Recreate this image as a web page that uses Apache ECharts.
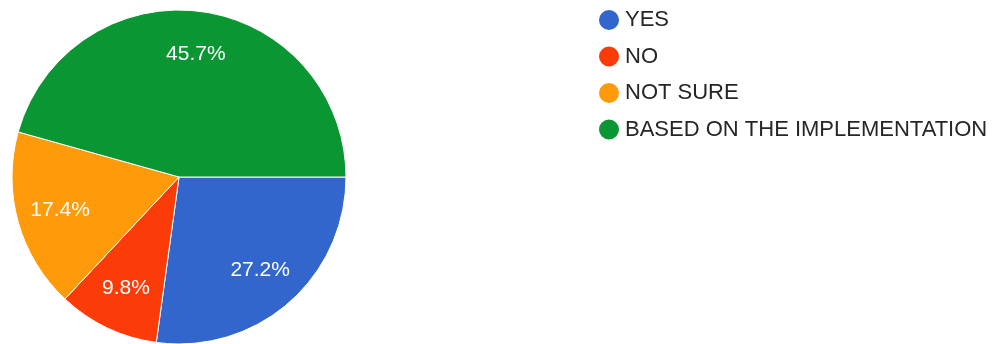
<!DOCTYPE html>
<html>
<head>
<meta charset="utf-8">
<style>
html,body{margin:0;padding:0;background:#fff;}
#chart{width:994px;height:344px;}
</style>
<script src="https://cdn.jsdelivr.net/npm/echarts@6/dist/echarts.min.js"></script>
</head>
<body>
<div id="chart"></div>
<script>
const categories = ['YES', 'NO', 'NOT SURE', 'BASED ON THE IMPLEMENTATION'];
const values = [27.2, 9.8, 17.4, 45.7];
const colors = ['#3366cc', '#fc3c08', '#ff9a0a', '#0b9634'];

const chart = echarts.init(document.getElementById('chart'));
const dataMain = categories.map((c, i) => ({ name: c, value: values[i], itemStyle: { color: colors[i] } }));
const dataLabels = categories.map((c, i) => ({ name: c, value: values[i], itemStyle: { color: 'rgba(0,0,0,0)' } }));

chart.setOption({
  backgroundColor: '#ffffff',
  animation: false,
  legend: {
    orient: 'vertical',
    left: 592,
    top: 3,
    icon: 'circle',
    itemWidth: 22,
    itemHeight: 22,
    itemGap: 12.5,
    data: categories,
    textStyle: { fontFamily: 'Liberation Sans, Arial, sans-serif', fontSize: 22, color: '#262626', lineHeight: 22, padding: 0 }
  },
  series: [
    {
      type: 'pie',
      center: [179, 177],
      radius: [0, 167],
      startAngle: 0,
      clockwise: true,
      label: { show: false },
      labelLine: { show: false },
      itemStyle: { borderColor: '#ffffff', borderWidth: 1 },
      emphasis: { disabled: true },
      data: dataMain
    },
    {
      type: 'pie',
      center: [179, 177],
      radius: [74, 167],
      startAngle: 0,
      clockwise: true,
      silent: true,
      legendHoverLink: false,
      label: {
        show: true,
        position: 'inside',
        formatter: p => p.value.toFixed(1) + '%',
        color: '#ffffff',
        fontFamily: 'Liberation Sans, Arial, sans-serif',
        fontSize: 21
      },
      labelLine: { show: false },
      itemStyle: { borderWidth: 0 },
      emphasis: { disabled: true },
      data: dataLabels
    }
  ]
});
</script>
</body>
</html>
